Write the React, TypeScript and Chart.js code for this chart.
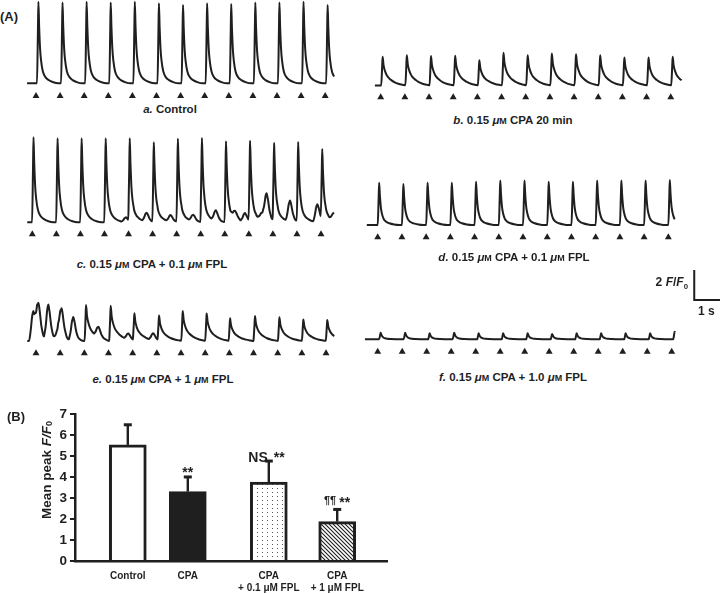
import React, { useEffect, useRef } from "react";
import { Chart, registerables } from "chart.js";
Chart.register(...registerables);

const FONT = "'Liberation Sans', Arial, Helvetica, sans-serif";
const INK = "#1f1f1f";
const PX_PER_UNIT = 15; // 2 F/F0 scale bar = 30 px

// ---------- DATA (panel A) ----------
const stimTimes = [0, 1, 2, 3, 4, 5, 6, 7, 8, 9, 10, 11, 12];
// peak amplitude above baseline (F/F0 units) for each stimulated beat
const ampA = [5.44, 5.38, 5.44, 5.38, 5.44, 5.33, 5.22, 5.33, 5.29, 5.38, 5.38, 5.44, 5.22];
const ampB = [1.91, 2.02, 1.96, 1.98, 1.69, 2.18, 2.02, 2.13, 2.09, 2.02, 1.87, 1.87, 1.91];
const ampC = [5.67, 5.6, 5.6, 5.6, 5.5, 5.3, 5.55, 5.6, 5.4, 5.35, 5.2, 5.3, 4.7];
const ampD = [2.82, 2.73, 2.82, 2.82, 2.89, 2.96, 2.96, 2.89, 2.89, 2.96, 2.96, 2.96, 3.0];
const ampF = [0.44, 0.44, 0.4, 0.44, 0.4, 0.4, 0.4, 0.36, 0.4, 0.4, 0.4, 0.4, 0.51];
// spontaneous (non-stimulated) release events in trace c: [time s, amplitude]
const extraC: [number, number][] = [
  [3.89, 0.33], [4.75, 0.6], [5.75, 0.45], [6.69, 0.45], [7.63, 0.7], [8.43, 0.5],
  [8.84, 0.6], [9.55, 0.5], [9.74, 1.8], [10.71, 1.4], [11.85, 1.2], [12.54, 0.5],
];
// all events in trace e: [time s, amplitude, shape kind]
const eventsE: [number, number, number][] = [
  [-0.11, 2.0, 1], [0.1, 2.25, 1], [0.51, 2.4, 1], [0.92, 0.8, 1], [1.06, 1.9, 1],
  [1.54, 1.6, 1], [2.07, 2.4, 2], [2.58, 0.7, 1], [3.09, 2.35, 2], [3.82, 0.4, 1],
  [4.07, 1.8, 2], [4.85, 0.45, 1], [5.09, 1.65, 2], [6.07, 2.0, 2], [7.06, 1.84, 2],
  [8.03, 1.51, 2], [9.06, 1.67, 2], [10.07, 1.58, 2], [11.06, 1.44, 2], [12.05, 1.4, 2],
];
// transient waveforms: [time from peak (s), fraction of peak]
const beatShape = [[-0.06, 0], [-0.02, 0.65], [0, 1], [0.03, 0.7], [0.07, 0.42], [0.11, 0.28], [0.18, 0.15], [0.28, 0.08], [0.42, 0.04], [0.62, 0.012], [0.82, 0]];
const waveShape = [[-0.18, 0], [-0.11, 0.35], [-0.05, 0.82], [0, 1], [0.05, 0.82], [0.12, 0.42], [0.2, 0.16], [0.32, 0.04], [0.45, 0]];
const slowShape = [[-0.06, 0], [-0.02, 0.65], [0, 1], [0.04, 0.7], [0.1, 0.5], [0.17, 0.36], [0.27, 0.25], [0.37, 0.18], [0.5, 0.11], [0.65, 0.06], [0.85, 0.02], [0.98, 0]];
const shapes = [beatShape, waveShape, slowShape];

// ---------- DATA (panel B) ----------
const groupLabels = [["Control"], ["CPA"], ["CPA", "+ 0.1 μM FPL"], ["CPA", "+ 1 μM FPL"]];
const meanPeak = [5.54, 3.31, 3.77, 1.88];
const semPeak = [0.96, 0.7, 1.0, 0.58];
const sigLeft = ["", "", "NS", "¶¶"];
const sigRight = ["", "**", "**", "**"];

// ---------- helpers ----------
type Ev = [number, number, number];
function shapeAt(shape: number[][], dt: number) {
  if (dt <= shape[0][0] || dt >= shape[shape.length - 1][0]) return 0;
  for (let i = 1; i < shape.length; i++) {
    if (dt <= shape[i][0]) {
      const [t0, v0] = shape[i - 1];
      const [t1, v1] = shape[i];
      return v0 + ((v1 - v0) * (dt - t0)) / (t1 - t0);
    }
  }
  return 0;
}
function buildTrace(events: Ev[], t0: number, t1: number) {
  const ts = new Set<number>([t0, t1]);
  for (const [t, , k] of events)
    for (const [dt] of shapes[k]) {
      const tt = +(t + dt).toFixed(4);
      if (tt > t0 && tt < t1) ts.add(tt);
    }
  return [...ts]
    .sort((a, b) => a - b)
    .map((t) => ({ x: t, y: 1 + events.reduce((s, [te, a, k]) => s + a * shapeAt(shapes[k], t - te), 0) }));
}
const regular = (amps: number[], lat: number, kind: number): Ev[] => stimTimes.map((t, i) => [t + lat, amps[i], kind]);

const eventsA = regular(ampA, 0.1, 0);
const eventsB = regular(ampB, 0.08, 2);
const eventsC = [...regular(ampC, 0.05, 0), ...extraC.map(([t, a]) => [t, a, 1] as Ev)];
const eventsD = regular(ampD, 0.06, 0);
const eventsF = regular(ampF, 0.12, 0);

type Spec = { left: number; top: number; width: number; height: number; stimX0: number; pps: number; baseY: number; markY: number; t0: number; t1: number };
const specA: Spec = { left: 20, top: 0, width: 322, height: 102, stimX0: 36, pps: 24.1, baseY: 83.3, markY: 96, t0: -0.37, t1: 12.37 };
const specB: Spec = { left: 365, top: 40, width: 325, height: 64, stimX0: 380.7, pps: 24.17, baseY: 85.5, markY: 97.3, t0: -0.24, t1: 12.45 };
const specC: Spec = { left: 20, top: 130, width: 322, height: 110, stimX0: 32.3, pps: 24.06, baseY: 222.3, markY: 234.3, t0: -0.21, t1: 12.54 };
const specD: Spec = { left: 360, top: 170, width: 325, height: 74, stimX0: 377.7, pps: 24.22, baseY: 225, markY: 237.3, t0: -0.45, t1: 12.27 };
const specE: Spec = { left: 20, top: 290, width: 322, height: 70, stimX0: 36, pps: 24.17, baseY: 341, markY: 353.3, t0: -0.36, t1: 12.34 };
const specF: Spec = { left: 360, top: 262, width: 360, height: 96, stimX0: 377.7, pps: 24.5, baseY: 339.3, markY: 351.7, t0: -0.52, t1: 12.13 };

const scaleBarPlugin = {
  id: "scaleBar",
  afterDraw(chart: any) {
    const { ctx, scales } = chart;
    const tA = 12.92, vA = 3.62;
    const x0 = scales.x.getPixelForValue(tA);
    const y0 = scales.y.getPixelForValue(vA);
    const yTop = scales.y.getPixelForValue(vA + 2);
    const x1 = scales.x.getPixelForValue(tA + 1);
    ctx.save();
    ctx.strokeStyle = INK;
    ctx.lineWidth = 2;
    ctx.beginPath();
    ctx.moveTo(x0, yTop);
    ctx.lineTo(x0, y0);
    ctx.lineTo(x1 + 2, y0);
    ctx.stroke();
    ctx.restore();
  },
};

function Trace({ spec, events, withScale }: { spec: Spec; events: Ev[]; withScale?: boolean }) {
  const ref = useRef<HTMLCanvasElement>(null);
  useEffect(() => {
    const { left, top, width, height, stimX0, pps, baseY, markY, t0, t1 } = spec;
    const pts = buildTrace(events, t0, t1);
    const markV = 1 - (markY - baseY) / PX_PER_UNIT;
    const chart = new Chart(ref.current as HTMLCanvasElement, {
      type: "line",
      data: {
        datasets: [
          { data: pts, borderColor: INK, borderWidth: 2, pointRadius: 0, cubicInterpolationMode: "monotone", fill: false },
          {
            data: stimTimes.map((t) => ({ x: t, y: markV })),
            showLine: false,
            pointStyle: "triangle",
            pointRadius: 4,
            pointBackgroundColor: INK,
            pointBorderColor: INK,
            pointBorderWidth: 0,
            borderColor: INK,
          },
        ],
      } as any,
      options: {
        animation: false,
        responsive: false,
        devicePixelRatio: 1,
        events: [],
        layout: { padding: 0, autoPadding: false },
        plugins: { legend: { display: false }, tooltip: { enabled: false } },
        scales: {
          x: { type: "linear", display: false, min: (left - stimX0) / pps, max: (left + width - stimX0) / pps },
          y: { type: "linear", display: false, min: 1 - (top + height - baseY) / PX_PER_UNIT, max: 1 + (baseY - top) / PX_PER_UNIT },
        },
      } as any,
      plugins: withScale ? [scaleBarPlugin] : [],
    });
    return () => chart.destroy();
  }, []);
  return (
    <canvas
      ref={ref}
      width={spec.width}
      height={spec.height}
      style={{ position: "absolute", left: spec.left, top: spec.top, width: spec.width, height: spec.height }}
    />
  );
}

function makeDots() {
  const c = document.createElement("canvas");
  c.width = 5;
  c.height = 4;
  const g = c.getContext("2d")!;
  g.fillStyle = "#fff";
  g.fillRect(0, 0, 5, 4);
  g.fillStyle = "#555";
  g.fillRect(2, 1, 1, 1);
  return g.createPattern(c, "repeat");
}
function makeHatch() {
  const c = document.createElement("canvas");
  c.width = 4;
  c.height = 4;
  const g = c.getContext("2d")!;
  g.fillStyle = "#fff";
  g.fillRect(0, 0, 4, 4);
  g.strokeStyle = INK;
  g.lineWidth = 1.1;
  g.beginPath();
  g.moveTo(-1, -1);
  g.lineTo(5, 5);
  g.moveTo(-1, 3);
  g.lineTo(1, 5);
  g.moveTo(3, -1);
  g.lineTo(5, 1);
  g.stroke();
  return g.createPattern(c, "repeat");
}

const barSlots = [0.88, 1.88, 3.23, 4.37];
const BAR_TOP = 395;

function BarPanel() {
  const ref = useRef<HTMLCanvasElement>(null);
  useEffect(() => {
    const fills = ["#ffffff", INK, makeDots(), makeHatch()];
    const overlay = {
      id: "errAndText",
      afterDraw(chart: any) {
        const { ctx, scales } = chart;
        ctx.save();
        chart.data.datasets.forEach((_: any, i: number) => {
          const el = chart.getDatasetMeta(i).data[0];
          const x = el.x;
          const top = el.y;
          const errTop = scales.y.getPixelForValue(meanPeak[i] + semPeak[i]);
          ctx.strokeStyle = INK;
          ctx.lineWidth = 2.4;
          ctx.beginPath();
          ctx.moveTo(x, top);
          ctx.lineTo(x, errTop);
          ctx.stroke();
          ctx.fillStyle = INK;
          ctx.fillRect(x - 4, errTop - 1.5, 8, 3);
          ctx.textBaseline = "alphabetic";
          const base = errTop + 0.5;
          if (sigLeft[i]) {
            const isNS = sigLeft[i] === "NS";
            ctx.font = isNS ? `bold 14px ${FONT}` : `bold 11px ${FONT}`;
            ctx.textAlign = "right";
            ctx.fillText(sigLeft[i], x - 1, isNS ? base : base - 6);
            ctx.font = `bold 14px ${FONT}`;
            ctx.textAlign = "left";
            ctx.fillText(sigRight[i], x + (isNS ? 5 : 2), isNS ? base : base - 3);
          } else if (sigRight[i]) {
            ctx.font = `bold 14px ${FONT}`;
            ctx.textAlign = "center";
            ctx.fillText(sigRight[i], x, base);
          }
        });
        ctx.restore();
        // y-axis title with italic F/F0 (centre at page x 47, y 470)
        ctx.save();
        ctx.fillStyle = INK;
        ctx.translate(47, 470 - BAR_TOP);
        ctx.rotate(-Math.PI / 2);
        const parts = [
          { t: "Mean peak ", f: `bold 13.5px ${FONT}`, dy: 0 },
          { t: "F/F", f: `italic bold 13.5px ${FONT}`, dy: 0 },
          { t: "0", f: `bold 9px ${FONT}`, dy: 3 },
        ];
        let total = 0;
        parts.forEach((p) => {
          ctx.font = p.f;
          total += ctx.measureText(p.t).width;
        });
        let cx = -total / 2;
        ctx.textAlign = "left";
        ctx.textBaseline = "middle";
        parts.forEach((p) => {
          ctx.font = p.f;
          ctx.fillText(p.t, cx, p.dy);
          cx += ctx.measureText(p.t).width;
        });
        ctx.restore();
      },
    };
    const chart = new Chart(ref.current as HTMLCanvasElement, {
      type: "bar",
      data: {
        datasets: meanPeak.map((v, i) => ({
          data: [{ x: barSlots[i], y: v }],
          backgroundColor: fills[i],
          borderColor: INK,
          borderWidth: 3,
          borderSkipped: "start",
          barThickness: 37,
          grouped: false,
        })),
      } as any,
      options: {
        animation: false,
        responsive: false,
        devicePixelRatio: 1,
        events: [],
        layout: { padding: { top: 19.3, right: 13, left: 0, bottom: 0 }, autoPadding: false },
        plugins: { legend: { display: false }, tooltip: { enabled: false } },
        scales: {
          x: {
            type: "linear",
            min: 0,
            max: 5.2,
            offset: false,
            z: 1,
            grid: { display: false, drawTicks: false, offset: false },
            border: { display: true, width: 2.5, color: INK },
            afterBuildTicks: (s: any) => {
              s.ticks = barSlots.map((v) => ({ value: v }));
            },
            afterFit: (s: any) => {
              s.height = 33;
            },
            ticks: {
              autoSkip: false,
              maxRotation: 0,
              padding: 9,
              color: INK,
              font: { family: FONT, size: 10, weight: "bold", lineHeight: 1.2 },
              callback: (_v: any, i: number) => groupLabels[i],
            },
          },
          y: {
            type: "linear",
            min: 0,
            max: 7,
            z: 1,
            grid: { display: true, drawOnChartArea: false, drawTicks: true, tickLength: 5, lineWidth: 2, color: INK },
            border: { display: true, width: 2.5, color: INK },
            afterFit: (s: any) => {
              s.width = 75;
            },
            ticks: { stepSize: 1, padding: 3, color: INK, font: { family: FONT, size: 13.5, weight: "bold" } },
          },
        },
      } as any,
      plugins: [overlay],
    });
    return () => chart.destroy();
  }, []);
  return <canvas ref={ref} width={400} height={199} style={{ position: "absolute", left: 0, top: BAR_TOP, width: 400, height: 199 }} />;
}

const Mu = () => (
  <>
    <i>μ</i>
    <span style={{ fontSize: "0.78em" }}>M</span>
  </>
);

function Label({ cx, cy, children, align = "center" }: { cx: number; cy: number; children: any; align?: string }) {
  const w = 300;
  const left = align === "center" ? cx - w / 2 : align === "right" ? cx - w : cx;
  return (
    <div
      style={{
        position: "absolute",
        left,
        top: cy - 7,
        width: w,
        height: 14,
        lineHeight: "14px",
        fontSize: 11.5,
        fontWeight: "bold",
        textAlign: align as any,
        whiteSpace: "nowrap",
      }}
    >
      {children}
    </div>
  );
}

export default function App() {
  return (
    <div
      style={{
        position: "absolute",
        left: 0,
        top: 0,
        width: 720,
        height: 594,
        background: "#fff",
        fontFamily: FONT,
        color: INK,
        overflow: "hidden",
      }}
    >
      <Trace spec={specA} events={eventsA} />
      <Trace spec={specB} events={eventsB} />
      <Trace spec={specC} events={eventsC} />
      <Trace spec={specD} events={eventsD} />
      <Trace spec={specE} events={eventsE} />
      <Trace spec={specF} events={eventsF} withScale />
      <BarPanel />

      <div style={{ position: "absolute", left: 0, top: 9, fontSize: 13, fontWeight: "bold", lineHeight: "16px" }}>(A)</div>
      <div style={{ position: "absolute", left: 7, top: 409, fontSize: 13, fontWeight: "bold", lineHeight: "16px" }}>(B)</div>

      <Label cx={170} cy={109}>
        <i>a.</i> Control
      </Label>
      <Label cx={513} cy={120}>
        <i>b.</i> 0.15 <Mu /> CPA 20 min
      </Label>
      <Label cx={152} cy={264}>
        <i>c.</i> 0.15 <Mu /> CPA + 0.1 <Mu /> FPL
      </Label>
      <Label cx={514} cy={257}>
        <i>d.</i> 0.15 <Mu /> CPA + 0.1 <Mu /> FPL
      </Label>
      <Label cx={163} cy={379}>
        <i>e.</i> 0.15 <Mu /> CPA + 1 <Mu /> FPL
      </Label>
      <Label cx={513} cy={377}>
        <i>f.</i> 0.15 <Mu /> CPA + 1.0 <Mu /> FPL
      </Label>

      <Label cx={688} cy={282} align="right">
        <span style={{ fontSize: 12 }}>
          2 <i>F</i>/<i>F</i>
          <span style={{ fontSize: "0.65em", position: "relative", top: 3 }}>0</span>
        </span>
      </Label>
      <Label cx={698} cy={311} align="left">
        <span style={{ fontSize: 12 }}>1 s</span>
      </Label>
    </div>
  );
}
